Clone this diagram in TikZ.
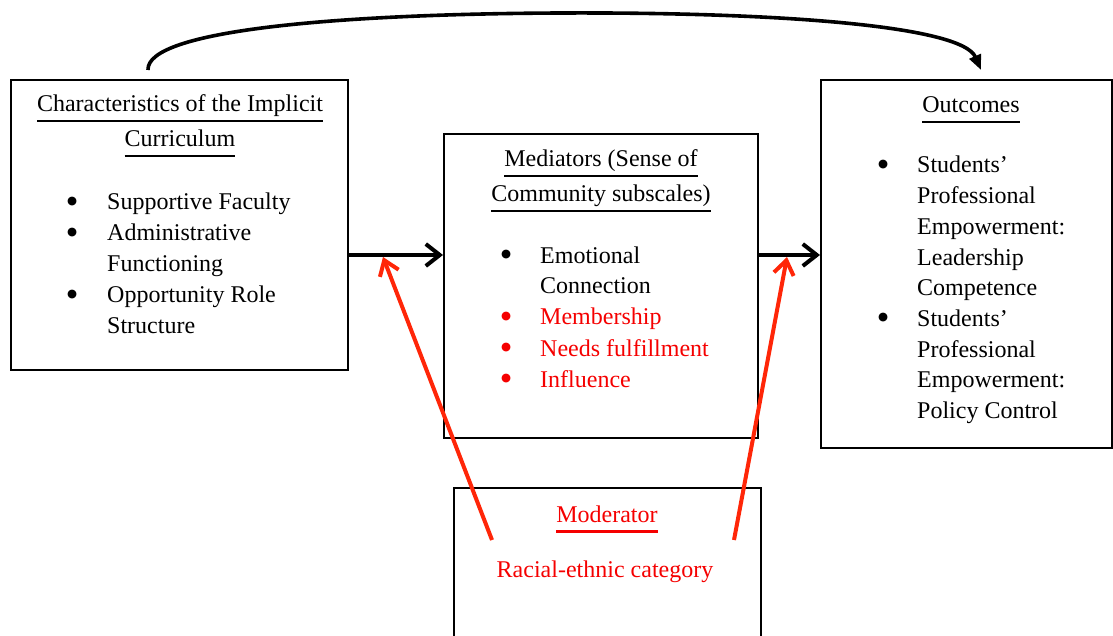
\documentclass[tikz,border=0pt]{standalone}
\usepackage{fontspec}
\setmainfont{Liberation Serif}
\newfontfamily\symfont{DejaVu Sans}
\usetikzlibrary{arrows.meta}

\definecolor{txtred}{RGB}{245,0,0}
\definecolor{arrred}{RGB}{255,38,8}

% underline drawn as a rule in the current colour
\newcommand\ulbar[1]{\leavevmode\setbox0\hbox{#1}\rlap{\rule[-10.5pt]{\wd0}{2.6pt}}\box0}
% list bullet: a solid round dot
\newcommand\bul{\leavevmode\raisebox{5.5pt}{\symfont\fontsize{11.5}{11.5}\selectfont ●}}

\begin{document}
\begin{tikzpicture}[x=1pt,y=-1pt,
  box/.style={draw, line width=1.8pt, inner sep=0pt, anchor=north west},
  body/.style={inner sep=0pt, font=\fontsize{24}{31}\selectfont},
  flow/.style={line width=4pt, -{Straight Barb[length=14pt,width=22pt,line width=4pt]}},
  modarrow/.style={arrred, line width=4pt, -{Straight Barb[length=14pt,width=20pt,line width=4pt]}},
  bow/.style={line width=3.6pt, -{Triangle[length=15pt,width=12pt]}}
]
\useasboundingbox (0,0) rectangle (1113,636);
\clip (0,0) rectangle (1113,636);

% boxes
\node[box, minimum width=337pt, minimum height=290pt] (left) at (10,79) {};
\node[box, minimum width=314pt, minimum height=304pt] (mid) at (443,133) {};
\node[box, minimum width=291pt, minimum height=368pt] (right) at (820,79) {};
\node[box, minimum width=307pt, minimum height=220pt] (mod) at (453,487) {};

% left box text
\node[body, anchor=base] (lefttitle) at (180,112)
  {\begin{tabular}[t]{@{}c@{}}\ulbar{Characteristics of the Implicit}\\[4pt]\ulbar{Curriculum}\end{tabular}};
\node[body, anchor=base west] (leftlist) at (67,210)
  {\begin{tabular}[t]{@{}p{40pt}@{}l@{}}
   \bul & Supportive Faculty\\
   \bul & Administrative\\
        & Functioning\\
   \bul & Opportunity Role\\
        & Structure
  \end{tabular}};

% middle box text
\node[body, anchor=base] (midtitle) at (601,167)
  {\begin{tabular}[t]{@{}c@{}}\ulbar{Mediators (Sense of}\\[4pt]\ulbar{Community subscales)}\end{tabular}};
\node[body, anchor=base west] (midlist) at (501,263)
  {\begin{tabular}[t]{@{}p{39pt}@{}l@{}}
   \bul & Emotional\\
        & Connection\\
   \textcolor{txtred}{\bul} & \textcolor{txtred}{Membership}\\
   \textcolor{txtred}{\bul} & \textcolor{txtred}{Needs fulfillment}\\
   \textcolor{txtred}{\bul} & \textcolor{txtred}{Influence}
  \end{tabular}};

% right box text
\node[body, anchor=base] (righttitle) at (971,113) {\ulbar{Outcomes}};
\node[body, anchor=base west, font=\fontsize{24}{30.7}\selectfont] (rightlist) at (878,173)
  {\begin{tabular}[t]{@{}p{39pt}@{}l@{}}
   \bul & Students’\\
        & Professional\\
        & Empowerment:\\
        & Leadership\\
        & Competence\\
   \bul & Students’\\
        & Professional\\
        & Empowerment:\\
        & Policy Control
  \end{tabular}};

% moderator box text
\node[body, anchor=base, text=txtred] (modtitle) at (607,522) {\ulbar{Moderator}};
\node[body, anchor=base, text=txtred] (modtext) at (605,577) {Racial-ethnic category};

% connector end points
\coordinate (flowrow) at (0,255);
\coordinate (arcstart) at (148,70);
\coordinate (arcend) at (981,70);
\coordinate (modleft) at (492,540);
\coordinate (modright) at (734,540);
\coordinate (hitleft) at (383,257);
\coordinate (hitright) at (787,257);

% direct path over the top
\draw[bow] (arcstart) .. controls (146,30) and (340,14) .. (560,13)
                      .. controls (780,12) and (962,26) .. (arcend);

% mediated paths
\draw[flow] (left.east |- flowrow) -- (mid.west |- flowrow);
\draw[flow] (mid.east |- flowrow) -- (right.west |- flowrow);

% moderation
\draw[modarrow] (modleft) -- (hitleft);
\draw[modarrow] (modright) -- (hitright);
\end{tikzpicture}
\end{document}
